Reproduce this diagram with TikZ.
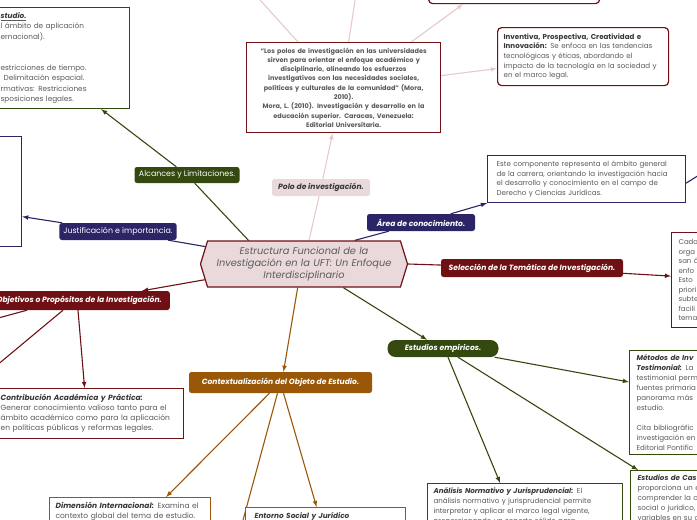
\documentclass[tikz,border=0pt]{standalone}
\usepackage{fontspec}
\setmainfont{Poppins}
\usetikzlibrary{positioning,calc,shapes.symbols,backgrounds}
\definecolor{wine}{HTML}{6E1014}
\definecolor{navy}{HTML}{2B2466}
\definecolor{olive}{HTML}{34490F}
\definecolor{brownish}{HTML}{9A5708}
\definecolor{blush}{HTML}{E9D9DA}
\definecolor{blushline}{HTML}{E5C9CB}
\definecolor{inkgray}{HTML}{5A5A5A}
\definecolor{darkink}{HTML}{383838}
\tikzstyle{hub}=[signal, signal to=west and east, signal pointer angle=146, draw=wine, line width=1.2pt, fill=blush, inner sep=0pt, text width=190pt, align=center, text=inkgray, font=\fontsize{9.8}{12}\selectfont\itshape]
\tikzstyle{branch}=[rounded corners=2.5pt, text=white, inner xsep=4pt, inner ysep=2pt, font=\fontsize{7.6}{9}\selectfont\bfseries\itshape]
\tikzstyle{plainbranch}=[branch, font=\fontsize{7.9}{9}\selectfont]
\tikzstyle{card}=[draw, fill=white, line width=1.2pt, anchor=north west, align=left, text=inkgray, inner xsep=7pt, inner ysep=4.5pt, font=\fontsize{7.1}{9.6}\selectfont]
\tikzstyle{link}=[line width=1.1pt]
\newcommand{\lead}[1]{\textcolor{darkink}{\textbf{\textit{#1}}}}

\begin{document}
\begin{tikzpicture}[x=1pt, y=-1pt]
\useasboundingbox (0,0) rectangle (697,520);
\clip (0,0) rectangle (697,520);

% central topic
\node[hub, minimum width=207pt, minimum height=46pt] (core) at (304,264)
  {Estructura Funcional de la\\ Investigación en la UFT: Un Enfoque\\ Interdisciplinario};

% branch labels
\node[plainbranch, fill=olive, minimum width=105pt, minimum height=16pt] (alc) at (187,175) {Alcances y Limitaciones.};
\node[plainbranch, fill=navy, minimum width=117pt, minimum height=17pt] (jus) at (118,231.5) {Justificación e importancia.};
\node[branch, fill=wine, minimum height=19pt, inner xsep=8pt, anchor=east] (obj) at (170,300.5) {Objetivos o Propósitos de la Investigación.};
\node[branch, fill=blush, text=darkink, minimum width=98pt, minimum height=17pt] (pol) at (321,187.5) {Polo de investigación.};
\node[branch, fill=navy, minimum width=108pt, minimum height=17pt] (are) at (421,222.5) {Área de conocimiento.};
\node[branch, fill=wine, minimum width=182pt, minimum height=18pt] (sel) at (532,268) {Selección de la Temática de Investigación.};
\node[branch, fill=olive, rounded corners=8pt, minimum width=111pt, minimum height=17pt] (emp) at (443,348.5) {Estudios empíricos.};
\node[branch, fill=brownish, minimum width=183pt, minimum height=21pt] (ctx) at (280.5,382.5) {Contextualización del Objeto de Estudio.};

% text cards
\node[card, draw=olive, minimum width=139pt, minimum height=101pt, text width=119pt, inner xsep=10pt, font=\fontsize{7.3}{10.4}\selectfont] (boxA) at (-10,7)
  {\underline{\lead{studio.}}\\ l ámbito de aplicación\\ ernacional).\\[20.8pt] estricciones de tiempo.\\ \hspace*{3pt}Delimitación espacial.\\ rmativas: Restricciones\\ sposiciones legales.};
\node[card, draw=navy, minimum width=71pt, minimum height=110pt] (boxB) at (-50,136) {};
\node[card, draw=wine, minimum width=194pt, minimum height=90pt, text width=186pt, inner xsep=4pt, align=center, font=\fontsize{6.5}{9.3}\selectfont\bfseries] (boxC) at (246,42)
  {“Los polos de investigación en las universidades\\ sirven para orientar el enfoque académico y\\ disciplinario, alineando los esfuerzos\\ investigativos con las necesidades sociales,\\ políticas y culturales de la comunidad” (Mora,\\ 2010).\\ Mora, L. (2010). Investigación y desarrollo en la\\ educación superior. Caracas, Venezuela:\\ Editorial Universitaria.};
\node[card, draw=wine, rounded corners=4pt, minimum width=171pt, minimum height=43pt] (boxD) at (428,-40) {};
\node[card, draw=wine, rounded corners=4pt, minimum width=171pt, minimum height=58pt, text width=159pt, inner xsep=6pt] (boxE) at (497,27)
  {\textcolor{darkink}{\textbf{Inventiva, Prospectiva, Creatividad e}}\\ \textcolor{darkink}{\textbf{Innovación:}} Se enfoca en las tendencias\\ tecnológicas y éticas, abordando el\\ impacto de la tecnología en la sociedad y\\ en el marco legal.};
\node[card, draw=navy, minimum width=198pt, minimum height=47pt, text width=180pt, inner xsep=9pt] (boxF) at (487,155)
  {Este componente representa el ámbito general\\ de la carrera, orientando la investigación hacia\\ el desarrollo y conocimiento en el campo de\\ Derecho y Ciencias Jurídicas.};
\node[card, draw=wine, minimum width=60pt, minimum height=95pt, text width=46pt, font=\fontsize{7}{9.5}\selectfont] (boxG) at (671,232)
  {Cada\\ orga\\ san á\\ enfo\\ Esto\\ priori\\ subte\\ facili\\ tema};
\node[card, draw=wine, minimum width=192pt, minimum height=50pt, text width=174pt, inner xsep=9pt, font=\fontsize{7.5}{10}\selectfont] (boxH) at (-9,388)
  {\lead{Contribución Académica y Práctica:}\\ Generar conocimiento valioso tanto para el\\ ámbito académico como para la aplicación\\ en políticas públicas y reformas legales.};
\node[card, draw=brownish, minimum width=161pt, text width=149pt, inner xsep=6pt, font=\fontsize{7.5}{10}\selectfont] (boxI) at (49,497)
  {\lead{Dimensión Internacional:} Examina el\\ contexto global del tema de estudio.\\ \strut};
\node[card, draw=brownish, minimum width=156pt, text width=142pt, inner xsep=9pt, font=\fontsize{7.3}{10}\selectfont] (boxJ) at (245,507)
  {\lead{Entorno Social y Jurídico}\\ \strut};
\node[card, draw=olive, minimum width=94pt, minimum height=104pt, text width=80pt, font=\fontsize{7.1}{9.9}\selectfont] (boxK) at (629,350)
  {\lead{Métodos de Inv}\\ \lead{Testimonial:} La\\ testimonial perm\\ fuentes primaria\\ panorama más\\ estudio.\\[9.9pt] Cita bibliográfic\\ investigación en\\ Editorial Pontific};
\node[card, draw=olive, minimum width=94pt, text width=80pt, font=\fontsize{7.1}{9.9}\selectfont] (boxL) at (630,470)
  {\lead{Estudios de Cas}\\ proporciona un e\\ comprender la c\\ social o jurídico,\\ variables en su c\\ \strut};
\node[card, draw=olive, minimum width=195pt, text width=183pt, inner xsep=6pt, font=\fontsize{7.1}{9.9}\selectfont] (boxM) at (427,483)
  {\lead{Análisis Normativo y Jurisprudencial:} El\\ análisis normativo y jurisprudencial permite\\ interpretar y aplicar el marco legal vigente,\\ proporcionando un soporte sólido para\\ \strut};

% connector ends
\coordinate (aIn) at ($(boxA.south east)+(-29,0)$);
\coordinate (bIn) at ($(boxB.east)+(0,25)$);
\coordinate (objIn) at ($(obj.north east)+(-28,0)$);
\coordinate (cIn) at ($(boxC.south)+(-11,0)$);
\coordinate (gIn) at ($(boxG.west)+(0,-4)$);
\coordinate (ctxIn) at ($(ctx.north)+(3,0)$);
\coordinate (empIn) at ($(emp.north)+(-16,0)$);
\coordinate (cOutA) at ($(boxC.north west)+(52,0)$);
\coordinate (offA) at (251,-10);
\coordinate (cOutB) at ($(boxC.north)+(5,0)$);
\coordinate (offB) at (357,-12);
\coordinate (cOutD) at ($(boxC.north east)+(-30,0)$);
\coordinate (dIn) at ($(boxD.south west)+(35,0)$);
\coordinate (cOutE) at ($(boxC.east)+(0,-12)$);
\coordinate (eIn) at ($(boxE.west)+(0,12)$);
\coordinate (fOut) at ($(boxF.east)+(0,4)$);
\coordinate (offC) at (712,167);
\coordinate (objOutA) at ($(obj.south east)+(-143,0)$);
\coordinate (offD) at (-20,323);
\coordinate (objOutB) at ($(obj.south east)+(-107,0)$);
\coordinate (offE) at (-10,371);
\coordinate (objOutH) at ($(obj.south east)+(-92,0)$);
\coordinate (hIn) at ($(boxH.north)+(-3,0)$);
\coordinate (ctxOutI) at ($(ctx.south)+(-11,0)$);
\coordinate (iIn) at ($(boxI.north)+(36,0)$);
\coordinate (ctxOutF) at ($(ctx.south)+(-3,0)$);
\coordinate (offF) at (239,535);
\coordinate (ctxOutJ) at ($(ctx.south)+(3,0)$);
\coordinate (jIn) at ($(boxJ.north)+(-9,0)$);
\coordinate (empOutM) at ($(emp.south)+(5,0)$);
\coordinate (mIn) at ($(boxM.north)+(-25,0)$);
\coordinate (empOutL) at ($(emp.south)+(15,0)$);
\coordinate (lIn) at ($(boxL.north west)+(8,0)$);
\coordinate (empOutK) at ($(emp.south east)+(-4,0)$);
\coordinate (kIn) at ($(boxK.north west)+(0,32)$);

\begin{scope}[on background layer]
\clip (0,0) rectangle (697,520);
  \foreach \a/\b/\c in {core.157/alc/olive, core.170/jus/navy, core.78/pol/blushline, core.25/are/navy, core.east/sel/wine}
          \draw[link, color=\c] (\a) -- (\b);
  \foreach \a/\b/\c in {alc/aIn/olive, jus/bIn/navy, core.189/objIn/wine, pol/cIn/blushline, are/boxF.south west/navy, sel/gIn/wine, core.255/ctxIn/brownish, core.329/empIn/olive,
      cOutA/offA/blushline, cOutB/offB/blushline, cOutD/dIn/blushline, cOutE/eIn/blushline, fOut/offC/navy,
      objOutA/offD/wine, objOutB/offE/wine, objOutH/hIn/wine,
      ctxOutI/iIn/brownish, ctxOutF/offF/brownish, ctxOutJ/jIn/brownish,
      empOutM/mIn/olive, empOutL/lIn/olive, empOutK/kIn/olive}
          \draw[link, -latex, color=\c] (\a) -- (\b);
\end{scope}

\end{tikzpicture}
\end{document}
